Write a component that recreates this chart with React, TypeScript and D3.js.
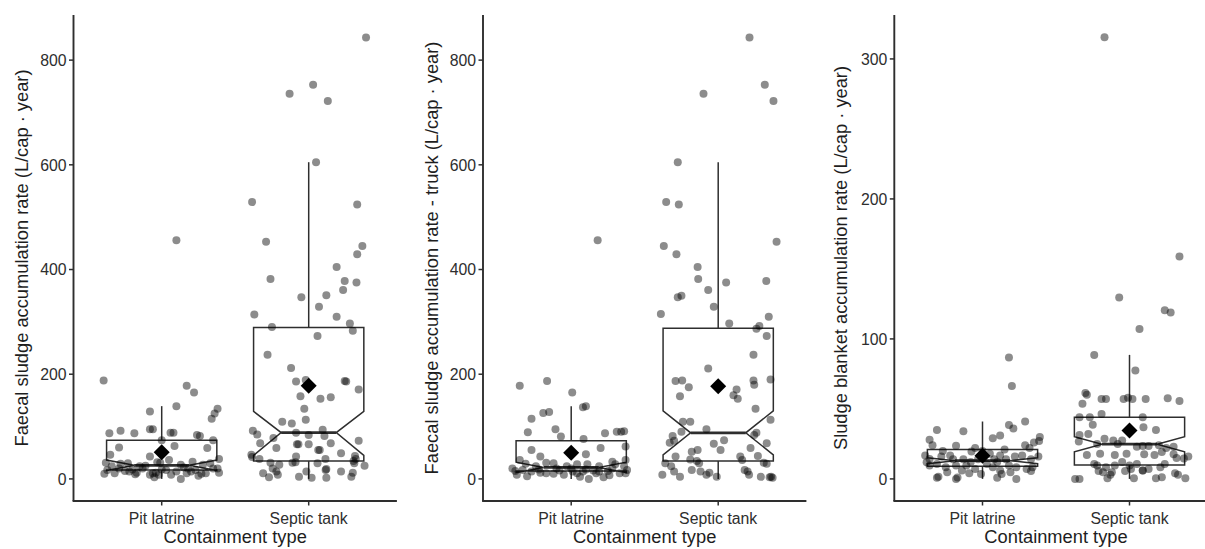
import React from "react";
import * as d3 from "d3";

// ---------- data ----------
const categories = ["Pit latrine", "Septic tank"];
const xTitle = "Containment type";
const yTitles = [
  "Faecal sludge accumulation rate (L/cap · year)",
  "Faecal sludge accumulation rate - truck (L/cap · year)",
  "Sludge blanket accumulation rate (L/cap · year)",
];
const yTicksA = [0, 200, 400, 600, 800];
const yTicksB = [0, 100, 200, 300];

// box statistics per panel: [pit latrine, septic tank]
const whiskerLow = [[0, 0], [0, 0], [0, 0]];
const boxQ1 = [[17, 34], [15, 34], [9, 10]];
const boxMedian = [[26, 88.5], [22, 88], [13, 24.8]];
const boxQ3 = [[74, 289], [73, 288], [21, 44]];
const whiskerHigh = [[139, 605], [139, 605], [41, 88.6]];
const notchLow = [[16, 45], [12, 46], [10.9, 19.3]];
const notchHigh = [[36, 129], [32, 130], [15.1, 30.2]];
const groupMean = [[51, 178], [50, 177], [16.5, 34.5]];

// jittered observations: [jitter offset (category units), value]
const p1Pit = [[0.10,456],[-0.395,188],[0.17,178],[0.22,165],[0.10,139],[-0.08,129],[0.38,134],[0.36,125],[0.34,115],[-0.356,87],[-0.28,92],[-0.186,87],[-0.08,95],[-0.06,95],[0.06,88],[0.08,88],[0.0,74],[0.24,84],[0.26,82],[0.35,74],[-0.29,60],[0.087,63],[0.31,59],[-0.35,46],[-0.08,43],[-0.38,31],[-0.28,29],[-0.23,30],[-0.15,24],[-0.03,32],[-0.01,31],[0.05,36],[0.13,27],[0.21,33],[0.28,27],[0.39,38],[-0.37,17],[-0.29,20],[-0.22,14],[-0.13,20],[-0.06,11],[-0.04,12],[0.03,17],[0.10,14],[0.17,11],[0.18,20],[0.23,17],[0.30,11],[0.35,20],[0.13,0],[-0.32,11],[-0.17,12],[-0.08,8],[-0.02,8],[0.064,8],[0.2,14],[0.27,10],[0.38,20],[-0.25,15],[-0.2,18],[-0.39,10],[0.39,12],[-0.11,25],[0.15,22],[-0.34,24],[0.33,30],[0.0,18],[-0.18,9],[0.25,6],[-0.05,3]];
const p1Septic = [[0.39,843],[-0.13,736],[0.03,753],[0.13,722],[0.05,605],[-0.385,529],[0.33,524],[-0.29,453],[0.365,445],[0.33,429],[0.19,405],[-0.26,382],[0.245,378],[0.325,375],[0.234,361],[0.12,351],[-0.05,347],[0.07,329],[0.19,310],[0.28,297],[0.30,283],[-0.37,314],[-0.25,290],[0.06,273],[-0.28,237],[-0.12,212],[-0.086,186],[-0.02,189],[0.245,187],[0.255,186],[0.34,171],[-0.056,158],[0.08,153],[0.15,156],[-0.03,134],[-0.18,109],[-0.115,106],[-0.02,113],[-0.38,92],[-0.35,85],[-0.24,78],[-0.086,88],[0.0,84],[0.095,94],[0.107,82],[-0.33,68],[-0.22,59],[-0.08,66],[-0.07,66],[0.0,66],[0.065,55],[0.075,55],[0.15,68],[0.22,49],[0.34,73],[0.315,44],[0.32,38],[-0.39,46],[-0.385,42],[-0.335,38],[-0.26,31],[-0.2,27],[-0.11,31],[-0.09,32],[-0.086,43],[0.06,30],[0.114,38],[0.305,34],[0.31,30],[0.38,25],[-0.31,11],[-0.27,3],[-0.22,14],[-0.21,8],[-0.066,4],[-0.016,14],[0.02,2],[0.115,17],[0.12,19],[0.12,2],[0.22,14],[0.29,4],[0.30,12],[-0.245,20]];
const p2Pit = [[0.18,456],[-0.35,178],[-0.164,187],[0.007,165],[0.08,137],[0.10,139],[-0.27,115],[-0.19,126],[-0.15,128],[-0.295,89],[-0.107,95],[-0.07,81],[0.084,76],[0.23,87],[0.31,90],[0.34,90],[0.36,91],[-0.27,55],[0.20,59],[0.37,62],[0.10,47],[-0.21,43],[-0.35,36],[0.28,33],[0.37,36],[-0.40,20],[-0.31,29],[-0.24,24],[-0.17,31],[-0.12,30],[-0.03,24],[0.04,28],[0.11,28],[0.19,24],[0.28,20],[0.36,24],[-0.37,8],[-0.27,14],[-0.21,12],[-0.17,11],[-0.12,10],[-0.05,8],[0.01,14],[0.04,11],[0.08,14],[0.12,0],[0.17,11],[0.19,14],[0.26,7],[0.33,11],[0.38,17],[-0.33,17],[-0.1,20],[0.1,18],[0.37,11],[-0.38,15],[-0.22,18],[0.0,20],[0.15,16],[0.25,15],[-0.08,16],[0.3,28],[-0.3,5],[0.06,4],[0.22,3]];
const p2Septic = [[0.213,843],[-0.10,736],[0.317,753],[0.376,722],[-0.275,605],[-0.354,529],[-0.268,524],[0.397,453],[-0.37,445],[-0.284,429],[-0.14,405],[-0.136,382],[0.054,375],[0.327,378],[-0.068,361],[-0.275,347],[-0.25,350],[-0.39,315],[-0.03,329],[0.075,297],[0.344,310],[0.26,287],[0.28,292],[0.33,273],[0.24,237],[-0.068,211],[-0.29,187],[-0.245,188],[-0.2,175],[-0.26,158],[0.125,171],[0.104,160],[0.133,153],[0.24,188],[0.245,180],[0.356,190],[0.254,134],[0.356,113],[-0.24,109],[-0.19,109],[-0.31,82],[-0.25,90],[-0.08,95],[0.04,74],[0.245,84],[0.26,88],[-0.33,69],[-0.30,73],[-0.18,52],[-0.14,55],[-0.03,67],[0.016,55],[0.22,59],[0.27,44],[0.33,68],[-0.29,43],[-0.19,37],[-0.145,34],[-0.13,30],[0.163,36],[-0.36,30],[-0.32,24],[-0.30,14],[-0.18,17],[-0.12,14],[-0.38,8],[-0.26,4],[-0.08,8],[-0.06,12],[-0.01,4],[0.18,17],[0.20,14],[0.21,8],[0.29,4],[0.36,4],[0.31,31],[0.33,29],[0.15,43],[0.37,2],[0.35,3]];
const p3Pit = [[0.18,86.7],[0.20,66.4],[-0.31,35],[-0.13,34],[0.18,38.5],[0.21,36],[0.29,41],[0.07,29],[0.12,31],[0.39,30],[0.385,27],[-0.36,28],[-0.34,24],[-0.18,23.6],[-0.075,19.5],[0.29,24],[0.32,22],[0.35,26],[-0.39,16.7],[-0.36,14.3],[-0.38,11.9],[-0.28,16],[-0.22,16.7],[-0.20,14],[-0.13,14],[-0.08,12],[-0.03,14],[0.08,14],[0.12,16.7],[0.16,14],[0.22,16],[0.27,16.7],[0.33,14],[0.38,16],[-0.36,9.5],[-0.31,10.7],[-0.25,8.3],[-0.18,9.5],[-0.11,9.5],[-0.05,7],[0.03,10.7],[0.07,8.3],[0.12,6],[0.18,9.5],[0.23,8.3],[0.30,7],[0.34,8.3],[-0.31,0.8],[-0.30,1.5],[-0.18,0],[-0.17,1],[0.1,0.8],[0.23,0],[-0.24,4.8],[-0.09,4],[-0.01,3.5],[0.13,3.5],[0.19,4.8],[0.33,5.7],[0.0,20],[-0.05,22],[0.05,18],[0.15,21],[-0.27,20],[0.1,12],[-0.14,6]];
const p3Septic = [[-0.17,315.5],[0.34,158.8],[-0.07,129.5],[0.24,120.5],[0.28,118.8],[0.068,107],[-0.24,88.6],[0.04,77.4],[-0.30,61.4],[-0.29,60.2],[-0.32,53.6],[-0.19,57],[-0.16,57],[-0.04,57],[-0.01,58],[0.02,57],[0.11,57],[0.26,57.6],[0.34,55.7],[-0.34,44],[-0.27,44],[-0.19,46.4],[0.09,44],[-0.25,38.6],[0.095,36.9],[0.18,35],[-0.34,31.4],[-0.17,28.6],[-0.11,27.4],[-0.08,25],[-0.05,27.4],[-0.28,32],[-0.345,26.7],[-0.22,25],[0.05,23],[0.09,23.5],[0.13,23.5],[0.2,24],[0.25,22],[0.3,23],[-0.29,17],[-0.2,18],[-0.1,17],[-0.02,18],[0.1,17.6],[0.17,17],[0.22,19.3],[0.30,17.6],[0.37,14.5],[0.40,16],[0.32,15],[-0.24,10.7],[-0.22,9.5],[-0.16,8.3],[-0.1,9.5],[-0.05,12],[0.0,9.5],[0.05,10.7],[0.09,6],[0.13,7],[0.21,8.3],[0.24,10.7],[-0.21,5.7],[-0.18,4.8],[-0.12,4.8],[-0.03,5.7],[-0.37,0],[-0.34,0],[-0.15,0.5],[-0.13,3],[0.03,0.5],[0.18,0.5],[0.22,1.2],[0.31,4],[0.33,3],[0.38,0.5],[0.09,6],[0.01,7]];

const panelPoints = [[p1Pit, p1Septic], [p2Pit, p2Septic], [p3Pit, p3Septic]];
const panelTicks = [yTicksA, yTicksA, yTicksB];
const panelDataMax = [844, 844, 315.6];

// ---------- layout ----------
const W = 1205;
const H = 549;
const TOP = 15;
const BOTTOM = 501;
const panelLeft = [73.5, 483, 894.3];
const catSpacing = 147;
const titleX = [28, 438, 847];
const FONT = "'Liberation Sans', Arial, sans-serif";
const INK = "#2e2e2e";

function Panel({ p }: { p: number }) {
  const left = panelLeft[p];
  const right = left + 2.2 * catSpacing;
  const x = d3.scaleLinear().domain([0.4, 2.6]).range([left, right]);
  const dmax = panelDataMax[p];
  const y = d3.scaleLinear().domain([-0.05 * dmax, dmax * 1.05]).range([BOTTOM, TOP]);
  const boxW = 0.75;

  return (
    <g>
      {categories.map((c, i) => {
        const cx = i + 1;
        const x0 = x(cx - boxW / 2);
        const x1 = x(cx + boxW / 2);
        const ind = (x1 - x0) * 0.25;
        const q1 = y(boxQ1[p][i]);
        const q3 = y(boxQ3[p][i]);
        const md = y(boxMedian[p][i]);
        const nl = y(notchLow[p][i]);
        const nh = y(notchHigh[p][i]);
        const path = d3.path();
        path.moveTo(x0, q3);
        path.lineTo(x0, nh);
        path.lineTo(x0 + ind, md);
        path.lineTo(x0, nl);
        path.lineTo(x0, q1);
        path.lineTo(x1, q1);
        path.lineTo(x1, nl);
        path.lineTo(x1 - ind, md);
        path.lineTo(x1, nh);
        path.lineTo(x1, q3);
        path.closePath();
        return (
          <g key={c}>
            <line x1={x(cx)} x2={x(cx)} y1={q3} y2={y(whiskerHigh[p][i])} stroke={INK} strokeWidth={1.5} />
            <line x1={x(cx)} x2={x(cx)} y1={q1} y2={y(whiskerLow[p][i])} stroke={INK} strokeWidth={1.5} />
            <path d={path.toString()} fill="white" stroke={INK} strokeWidth={1.5} strokeLinejoin="miter" />
            <line x1={x0 + ind} x2={x1 - ind} y1={md} y2={md} stroke={INK} strokeWidth={2.8} />
          </g>
        );
      })}
      {panelPoints[p].map((pts, i) =>
        pts.map((d, k) => (
          <circle key={`${i}-${k}`} cx={x(i + 1 + d[0])} cy={y(d[1])} r={4} fill="#000" fillOpacity={0.45} />
        ))
      )}
      {categories.map((c, i) => {
        const mx = x(i + 1);
        const my = y(groupMean[p][i]);
        const s = 8;
        return (
          <path key={c} d={`M${mx},${my - s}L${mx + s},${my}L${mx},${my + s}L${mx - s},${my}Z`} fill="#000" />
        );
      })}
      <line x1={left} x2={left} y1={TOP} y2={BOTTOM} stroke={INK} strokeWidth={1.9} />
      <line x1={left - 0.9} x2={right} y1={BOTTOM} y2={BOTTOM} stroke={INK} strokeWidth={1.9} />
      {panelTicks[p].map((t) => (
        <g key={t}>
          <line x1={left - 4.5} x2={left} y1={y(t)} y2={y(t)} stroke={INK} strokeWidth={1.5} />
          <text x={left - 7} y={y(t)} dy="0.36em" textAnchor="end" fontFamily={FONT} fontSize={15.8} fill={INK}>
            {t}
          </text>
        </g>
      ))}
      {categories.map((c, i) => (
        <g key={c}>
          <line x1={x(i + 1)} x2={x(i + 1)} y1={BOTTOM} y2={BOTTOM + 4.5} stroke={INK} strokeWidth={1.5} />
          <text x={x(i + 1)} y={524} textAnchor="middle" fontFamily={FONT} fontSize={15.8} fill={INK}>
            {c}
          </text>
        </g>
      ))}
      <text x={(left + right) / 2} y={543} textAnchor="middle" fontFamily={FONT} fontSize={18.3} fill="#1e1e1e">
        {xTitle}
      </text>
      <text
        transform={`translate(${titleX[p]},${(TOP + BOTTOM) / 2}) rotate(-90)`}
        textAnchor="middle"
        fontFamily={FONT}
        fontSize={18.3}
        fill="#1e1e1e"
      >
        {yTitles[p]}
      </text>
    </g>
  );
}

export default function App() {
  return (
    <svg
      width={W}
      height={H}
      viewBox={`0 0 ${W} ${H}`}
      style={{ position: "absolute", left: 0, top: 0, background: "#fff", display: "block" }}
    >
      <rect width={W} height={H} fill="#fff" />
      {[0, 1, 2].map((p) => (
        <Panel key={p} p={p} />
      ))}
    </svg>
  );
}
